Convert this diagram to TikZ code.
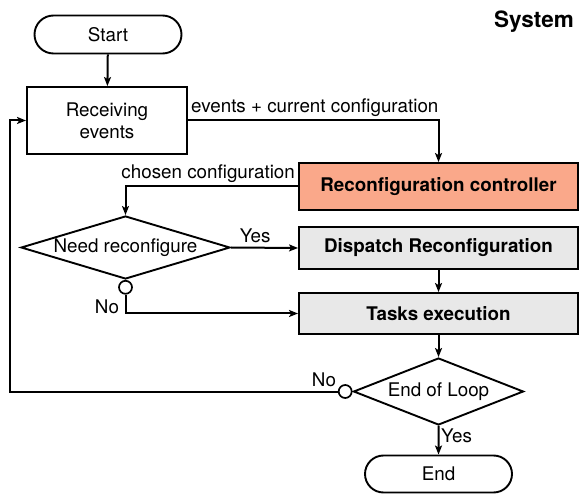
\documentclass[tikz,border=0pt]{standalone}
\usepackage{fontspec}
\setmainfont{TeX Gyre Heros}
\usetikzlibrary{shapes.geometric,shapes.misc,arrows.meta}
\definecolor{salmon}{RGB}{250,168,138}
\definecolor{panelgray}{RGB}{232,232,232}
\begin{document}
\begin{tikzpicture}[x=1pt,y=-1pt,
  every node/.style={font=\fontsize{18.8}{22}\selectfont},
  arr/.style={line width=2pt, -{Stealth[length=9pt,width=7pt,inset=2pt]}},
  terminal/.style={rounded rectangle, draw, line width=1.9pt, minimum width=147pt, minimum height=38pt, inner sep=0pt},
  process/.style={rectangle, draw, line width=1.9pt, inner sep=0pt},
  task/.style={process, minimum width=279pt, font=\fontsize{18.8}{22}\selectfont\bfseries},
  decision/.style={diamond, draw, line width=1.9pt, inner sep=0pt},
  joint/.style={circle, draw, fill=white, line width=1.7pt, minimum size=13pt, inner sep=0pt},
  lbl/.style={inner xsep=3pt, inner ysep=4pt}
]
\useasboundingbox (0,0) rectangle (581,494);

% main blocks
\node[terminal] (start) at (108,34.5) {Start};
\node[process, minimum width=160pt, minimum height=67pt, align=center] (recv) at (107,120.5) {Receiving\\events};
\node[task, minimum height=47pt, fill=salmon] (rc) at (438.5,186.5) {Reconfiguration controller};
\node[decision, minimum width=209pt, minimum height=63pt, aspect=3.3] (nr) at (125.5,247.5) {Need reconfigure};
\node[task, minimum height=42pt, fill=panelgray] (disp) at (438.5,248) {Dispatch Reconfiguration};
\node[task, minimum height=41pt, fill=panelgray] (exec) at (438.5,313.5) {Tasks execution};
\node[decision, minimum width=170pt, minimum height=67pt, aspect=2.5] (eol) at (438.5,391.5) {End of Loop};
\node[terminal, minimum height=37pt] (end) at (438.5,474) {End};
\node[font=\fontsize{22.5}{26}\selectfont\bfseries] (sys) at (534,22) {System};

% "No" branch points
\node[joint, anchor=north] (j1) at (nr.south) {};
\node[joint, anchor=east] (j2) at (eol.west) {};
\coordinate (loop) at (10,0);

% connectors
\draw[arr] (start) -- (recv);
\draw[arr] (recv.east) -| (rc.north);
\node[lbl, anchor=south west] (lab1) at (recv.east) {events + current configuration};
\draw[arr] (rc.west) -| (nr.north);
\node[lbl, anchor=south east] (lab2) at (rc.west) {chosen configuration};
\draw[arr] (nr.east) -- node[pos=0.36, above, lbl] (lab3) {Yes} (disp.west);
\draw[arr] (j1.south) |- (exec.west);
\node (lab4) at (107,307) {No};
\draw[arr] (disp) -- (exec);
\draw[arr] (exec) -- (eol);
\draw[arr] (j2.west) -- (j2.west -| loop) |- (recv.west);
\node (lab5) at (324,380) {No};
\draw[arr] (eol) -- (end);
\node[anchor=west, inner sep=1pt] (lab6) at (440,436) {Yes};
\end{tikzpicture}
\end{document}
